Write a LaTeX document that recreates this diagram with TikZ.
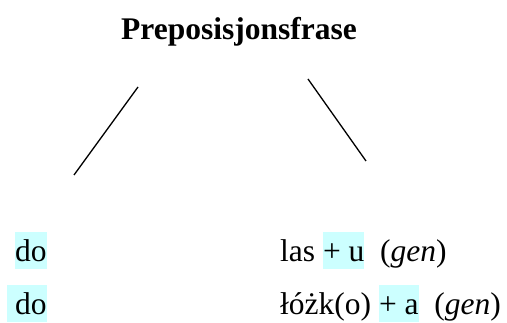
\documentclass[tikz,border=0pt]{standalone}
\usepackage{fontspec}
\setmainfont{Liberation Serif}
\usepackage{xcolor}
\definecolor{hlcyan}{HTML}{CCFFFF}
\newcommand{\hlbox}[1]{{\setlength{\fboxsep}{0pt}\colorbox{hlcyan}{\rule[-7pt]{0pt}{37pt}#1}}}

\begin{document}
\begin{tikzpicture}[x=1pt,y=-1pt,every node/.style={inner sep=0pt,font=\fontsize{31.5}{36}\selectfont}]
          \useasboundingbox (0,0) rectangle (507,323);
          \node[anchor=base,font=\fontsize{31.5}{36}\selectfont\bfseries] (pp) at (239,40) {Preposisjonsfrase};
          \coordinate (ltop) at (138,87);
          \coordinate (lbot) at (74,175);
          \coordinate (rtop) at (308,79);
          \coordinate (rbot) at (366,161);
          \draw[line width=1.3pt] (ltop) -- (lbot);
          \draw[line width=1.3pt] (rtop) -- (rbot);
          \node[anchor=base west] (do1) at (15,262) {\hlbox{do}};
          \node[anchor=base west] (las) at (280,262) {las \hlbox{+ u}\ \ (\textit{gen})};
          \node[anchor=base west] (do2) at (7,315) {\hlbox{\ do}};
          \node[anchor=base west] (lozk) at (280,315) {łóżk(o) \hlbox{+ a}\ \ (\textit{gen})};
        \end{tikzpicture}
\end{document}
